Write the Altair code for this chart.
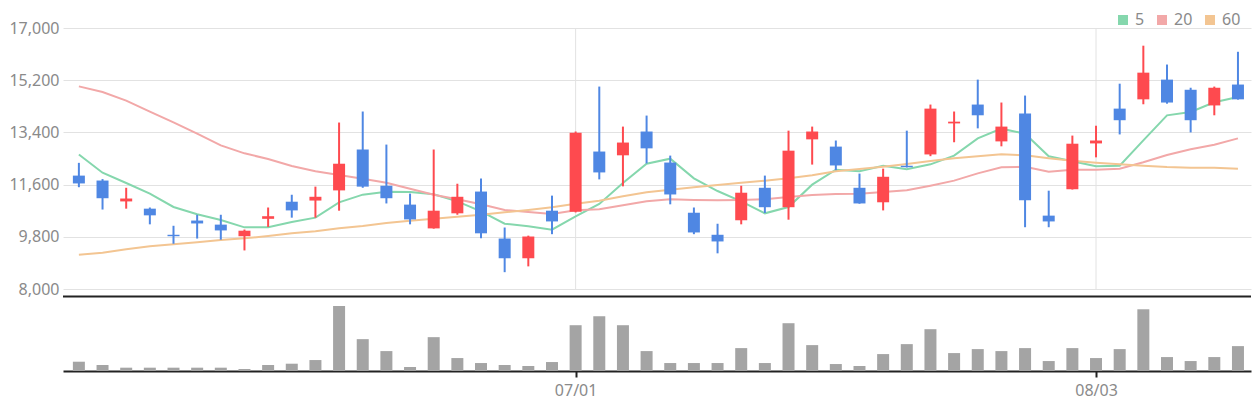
import altair as alt
import pandas as pd

# ---- data (50 trading days) ----
OPEN = [11910, 11740, 11020, 10770, 9870, 10360, 10220, 9820, 10420, 11010,
        11050, 11400, 12810, 11560, 10910, 10090, 10610, 11360, 9740, 9060,
        10700, 10660, 12740, 12610, 13430, 12360, 10630, 9870, 10370, 11490,
        10820, 13160, 12910, 11490, 10990, 12250, 12640, 13710, 14360, 13090,
        14050, 10530, 11440, 13020, 14220, 14540, 15220, 14870, 14330, 15050]
HIGH = [12350, 11790, 11490, 10810, 10180, 10560, 10560, 10050, 10810, 11250,
        11530, 13740, 14120, 12980, 11290, 12810, 11630, 11810, 10120, 9840,
        11220, 13430, 14980, 13600, 13980, 12600, 10810, 10250, 11560, 11910,
        13460, 13600, 13120, 11980, 12150, 13460, 14360, 14120, 15220, 14430,
        14670, 11390, 13290, 13630, 15080, 16390, 15740, 14940, 14980, 16180]
LOW = [11510, 10740, 10770, 10230, 9560, 9740, 9700, 9330, 10140, 10460,
       10460, 10700, 11490, 10950, 10230, 10080, 10560, 9750, 8580, 8780,
       9890, 10640, 11780, 11540, 12330, 10920, 9890, 9230, 10230, 10620,
       10390, 12290, 12100, 10940, 10710, 12190, 12580, 13060, 13540, 12920,
       10130, 10130, 11430, 12540, 13330, 14370, 14390, 13400, 13990, 14530]
CLOSE = [11640, 11130, 11120, 10540, 9820, 10260, 10020, 10010, 10510, 10710,
         11180, 12320, 11530, 11130, 10400, 10700, 11180, 9920, 9060, 9810,
         10330, 13390, 12020, 13050, 12850, 11260, 9950, 9640, 11320, 10820,
         12770, 13430, 12260, 10950, 11870, 12200, 14220, 13770, 13990, 13600,
         11060, 10330, 13010, 13120, 13820, 15460, 14430, 13820, 14940, 14540]
VOLUME = [28, 18, 10, 10, 10, 10, 10, 6, 18, 22,
          33, 196, 96, 60, 12, 102, 39, 24, 18, 15,
          27, 138, 165, 138, 60, 24, 24, 24, 69, 24,
          144, 78, 21, 15, 51, 81, 126, 54, 66, 60,
          69, 30, 69, 39, 66, 186, 42, 30, 42, 75]
MA5 = [12640, 12010, 11655, 11287, 10828, 10575, 10379, 10126, 10126, 10310,
       10460, 10988, 11253, 11356, 11345, 11264, 11023, 10678, 10253, 10161,
       10046, 10506, 10931, 11655, 12322, 12494, 11816, 11379, 11023, 10609,
       10828, 11598, 12115, 12057, 12253, 12126, 12299, 12598, 13195, 13529,
       13356, 12575, 12402, 12230, 12253, 13126, 13988, 14103, 14437, 14621]
MA20 = [14988, 14793, 14494, 14115, 13747, 13356, 12954, 12678, 12483, 12241,
        12057, 11931, 11805, 11667, 11460, 11253, 11092, 10919, 10724, 10655,
        10586, 10713, 10747, 10885, 11023, 11092, 11069, 11057, 11069, 11092,
        11172, 11241, 11276, 11287, 11345, 11402, 11563, 11736, 11988, 12195,
        12218, 12046, 12115, 12115, 12149, 12368, 12621, 12816, 12977, 13195]
MA60 = [9184, 9253, 9368, 9471, 9540, 9609, 9690, 9747, 9828, 9919,
        9988, 10092, 10172, 10276, 10356, 10425, 10494, 10563, 10644, 10724,
        10816, 10942, 11046, 11195, 11333, 11425, 11506, 11586, 11667, 11736,
        11816, 11920, 12057, 12138, 12218, 12310, 12414, 12506, 12575, 12644,
        12609, 12506, 12425, 12356, 12299, 12253, 12207, 12184, 12184, 12149]

MA_NAMES = ["5", "20", "60"]
MA_COLORS = ["#85d7ad", "#f2a8a8", "#f3c592"]
Y_TICKS = [8000, 9800, 11600, 13400, 15200, 17000]
X_TICK_IDX = [21, 43]
X_TICK_LABELS = ["07/01", "08/03"]
VOL_MAX = 223

RED = "#fe4a4f"
BLUE = "#4f87e3"
GRAY_TXT = "#8a8a8a"
FONT = "Noto Sans"

PLOT_W = 1188
PLOT_H = 343
PRICE_H = 261
SEP_Y = 268.5
VOL_TOP = 269

n = len(OPEN)
candles = pd.DataFrame({"idx": list(range(n)), "open": OPEN, "high": HIGH,
                        "low": LOW, "close": CLOSE, "volume": VOLUME})
ma_rows = []
for name, series in zip(MA_NAMES, [MA5, MA20, MA60]):
    for i, v in enumerate(series):
        ma_rows.append({"idx": i, "ma": name, "value": v})
ma = pd.DataFrame(ma_rows)
xgrid = pd.DataFrame({"idx": X_TICK_IDX})

label_expr = " : ".join(f"datum.value == {i} ? '{l}'" for i, l in zip(X_TICK_IDX, X_TICK_LABELS)) + " : ''"

x_axis = alt.Axis(values=X_TICK_IDX, labelExpr=label_expr, grid=False, title=None,
                  domainColor="#222222", domainWidth=2, tickColor="#222222",
                  tickWidth=2, tickSize=6, labelColor=GRAY_TXT, labelFontSize=16,
                  labelFont=FONT, labelPadding=5)
x_scale = alt.Scale(domain=[-0.46, n - 1 + 0.34], nice=False, zero=False)


def xenc():
    return alt.X("idx:Q", scale=x_scale, axis=x_axis)


price_scale = alt.Scale(domain=[Y_TICKS[0], Y_TICKS[-1]], range=[PRICE_H, 0], nice=False, zero=False)
y_axis = alt.Axis(values=Y_TICKS, labelExpr="format(datum.value, ',')", grid=True,
                  gridColor="#e2e2e2", gridWidth=1,
                  domain=False, ticks=False, labelColor=GRAY_TXT, labelFontSize=16,
                  labelFont=FONT, labelPadding=4, title=None)

up = alt.datum.close >= alt.datum.open
candle_color = alt.when(up).then(alt.value(RED)).otherwise(alt.value(BLUE))
ma_scale = alt.Scale(domain=MA_NAMES, range=MA_COLORS)

vgrid = alt.Chart(xgrid).mark_rule(color="#e2e2e2", strokeWidth=1).encode(
    x=xenc(),
    y=alt.value(0),
    y2=alt.value(PRICE_H),
)

lines = alt.Chart(ma).mark_line(strokeWidth=2).encode(
    x=xenc(),
    y=alt.Y("value:Q", scale=price_scale, axis=y_axis),
    color=alt.Color("ma:N", sort=MA_NAMES, scale=ma_scale,
                    legend=alt.Legend(title=None, orient="none", legendX=1052, legendY=-16,
                                      direction="horizontal", symbolType="square",
                                      symbolSize=4, symbolStrokeWidth=8, gridAlign="none",
                                      labelFontSize=16, labelColor=GRAY_TXT, labelFont=FONT,
                                      labelOffset=4, columnPadding=0, padding=0)),
)

wicks = alt.Chart(candles).mark_rule(strokeWidth=2).encode(
    x=xenc(),
    y=alt.Y("low:Q", scale=price_scale, axis=y_axis),
    y2="high:Q",
    color=candle_color,
)

bodies = alt.Chart(candles).mark_bar(size=12).encode(
    x=xenc(),
    y=alt.Y("open:Q", scale=price_scale, axis=y_axis),
    y2="close:Q",
    color=candle_color,
)

sep = alt.Chart(pd.DataFrame({"k": [0]})).mark_rule(color="#222222", strokeWidth=2).encode(
    x=alt.value(0), x2=alt.value(PLOT_W), y=alt.value(SEP_Y)
)

price = alt.layer(vgrid, lines, wicks, bodies, sep)

volume = alt.Chart(candles).mark_bar(size=12, color="#a4a4a4").encode(
    x=xenc(),
    y=alt.Y("volume:Q", scale=alt.Scale(domain=[0, VOL_MAX], range=[PLOT_H, VOL_TOP], nice=False),
            axis=None),
)

chart = alt.layer(price, volume).resolve_scale(y="independent").properties(
    width=PLOT_W, height=PLOT_H,
    autosize=alt.AutoSizeParams(type="none"),
    padding={"left": 55, "top": 20, "right": 1, "bottom": 30},
).configure_view(stroke=None)

chart.save("out.html", embed_options={"renderer": "svg", "actions": False})
